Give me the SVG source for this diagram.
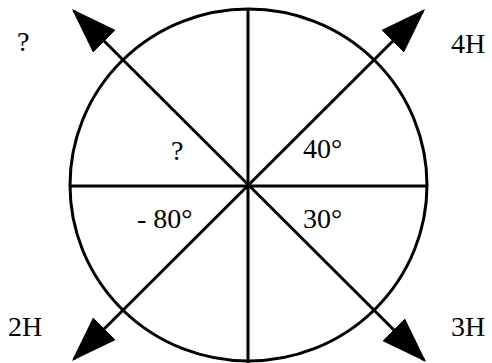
<svg xmlns="http://www.w3.org/2000/svg" width="492" height="363" viewBox="0 0 492 363">
<style>
.ln{stroke:#000;stroke-width:3;fill:none}
.t{font-family:"Liberation Serif","Times New Roman",serif;font-size:28px;fill:#000}
</style>
<defs>
<marker id="ah" viewBox="0 0 46 32" refX="43" refY="16" markerWidth="46" markerHeight="32" markerUnits="userSpaceOnUse" orient="auto-start-reverse">
<path d="M0,0 L46,16 L0,32 Z" fill="#000"/>
</marker>
</defs>
<rect width="492" height="363" fill="#fff"/>
<g id="circle">
<ellipse class="ln" cx="248.5" cy="185" rx="178.5" ry="176"/>
</g>
<g id="connectors">
<line class="ln" x1="248" y1="9" x2="248" y2="363"/>
<line class="ln" x1="70" y1="186" x2="427" y2="186"/>
<line class="ln" x1="74" y1="11" x2="424" y2="360" marker-start="url(#ah)" marker-end="url(#ah)"/>
<line class="ln" x1="423" y1="11" x2="74" y2="359" marker-start="url(#ah)" marker-end="url(#ah)"/>
</g>
<g id="label-q-outer"><text class="t" x="17" y="51">?</text></g>
<g id="label-4H"><text class="t" x="451" y="53">4H</text></g>
<g id="label-2H"><text class="t" x="8" y="336">2H</text></g>
<g id="label-3H"><text class="t" x="451" y="336">3H</text></g>
<g id="label-q-inner"><text class="t" x="171" y="160">?</text></g>
<g id="label-40"><text class="t" x="303" y="158">40°</text></g>
<g id="label-m80"><text class="t" x="137" y="228">- 80°</text></g>
<g id="label-30"><text class="t" x="303" y="228">30°</text></g>
</svg>
